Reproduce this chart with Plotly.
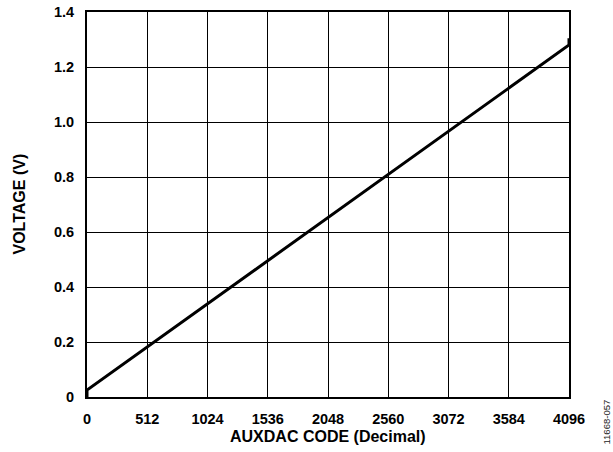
import plotly.graph_objects as go

code = [0, 0, 4096, 4096]
voltage = [0.0, 0.025, 1.28, 1.305]
x_ticks = [0, 512, 1024, 1536, 2048, 2560, 3072, 3584, 4096]
y_ticks = [0, 0.2, 0.4, 0.6, 0.8, 1.0, 1.2, 1.4]
y_labels = ["0", "0.2", "0.4", "0.6", "0.8", "1.0", "1.2", "1.4"]

fig = go.Figure()
fig.add_trace(go.Scatter(x=code, y=voltage, mode="lines",
                         line=dict(color="black", width=3), showlegend=False,
                         hoverinfo="skip"))

fam = "Liberation Sans, Arial, sans-serif"
fig.update_layout(
    width=613, height=452,
    margin=dict(l=87, r=44, t=12, b=55),
    plot_bgcolor="white", paper_bgcolor="white",
    font=dict(family=fam, size=14.5, color="black"),
    xaxis=dict(range=[0, 4096], tickvals=x_ticks, ticktext=[f"<b>{v}</b>" for v in x_ticks],
               showgrid=True, gridcolor="black", gridwidth=1,
               showline=True, linecolor="black", linewidth=2, mirror=True,
               ticks="", zeroline=False, automargin=False, ticklabelstandoff=8),
    yaxis=dict(range=[0, 1.4], tickvals=y_ticks, ticktext=[f"<b>{v}</b>" for v in y_labels],
               showgrid=True, gridcolor="black", gridwidth=1,
               showline=True, linecolor="black", linewidth=2, mirror=True,
               ticks="", zeroline=False, automargin=False, ticklabelstandoff=8),
)
fig.add_annotation(text="<b>AUXDAC CODE (Decimal)</b>", x=0.5, y=0, xref="paper", yref="paper",
                   yshift=-39, showarrow=False, font=dict(size=16, family=fam),
                   xanchor="center", yanchor="middle")
fig.add_annotation(text="<b>VOLTAGE (V)</b>", x=0, y=0.5, xref="paper", yref="paper",
                   xshift=-68, textangle=-90, showarrow=False, font=dict(size=16, family=fam),
                   xanchor="center", yanchor="middle")
fig.add_annotation(text="11668-057", x=1, y=0, xref="paper", yref="paper",
                   xshift=37, yshift=-1, textangle=-90, showarrow=False,
                   font=dict(size=9.5, color="#222222", family=fam), xanchor="center", yanchor="top")
fig.write_html("out.html", config={"displayModeBar": False},
               post_script="document.body.style.margin='0';")
